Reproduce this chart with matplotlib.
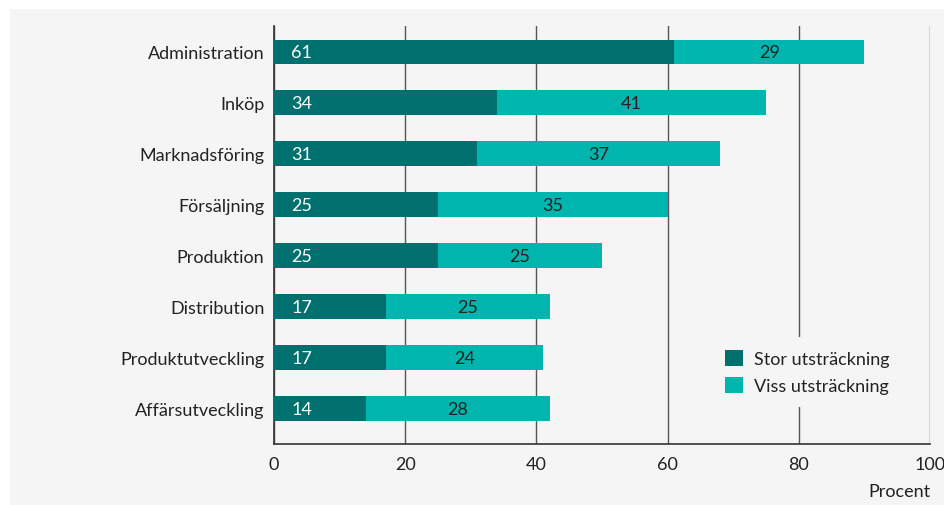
import matplotlib.pyplot as plt
from matplotlib.patches import Rectangle

plt.rcParams['font.family'] = ['Lato', 'DejaVu Sans']

kategorier = ['Administration', 'Inköp', 'Marknadsföring', 'Försäljning',
              'Produktion', 'Distribution', 'Produktutveckling', 'Affärsutveckling']
stor = [61, 34, 31, 25, 25, 17, 17, 14]
viss = [29, 41, 37, 35, 25, 25, 24, 28]

mork = '#00706f'
ljus = '#00b5ad'
bg = '#f5f5f5'
fs = 13

fig = plt.figure(figsize=(9.44, 5.06), dpi=100, facecolor='white')
# grå bakgrund med vit kant uppe och till vänster
fig.patches.append(Rectangle((10 / 944, 0), 1, 1 - 10 / 506, transform=fig.transFigure,
                             facecolor=bg, edgecolor='none', zorder=-10))
ax = fig.add_axes([274 / 944, 61 / 506, 656 / 944, 418 / 506])
ax.set_facecolor(bg)

y = list(range(len(kategorier)))
ax.barh(y, stor, height=0.49, color=mork, label='Stor utsträckning', zorder=3)
ax.barh(y, viss, left=stor, height=0.49, color=ljus, label='Viss utsträckning', zorder=3)

for i in y:
    ax.text(2.6, i, str(stor[i]), color='white', ha='left', va='center', fontsize=fs, zorder=4)
    ax.text(stor[i] + viss[i] / 2, i, str(viss[i]), color='#222222', ha='center', va='center',
            fontsize=fs, zorder=4)

ax.set_xlim(0, 100)
ax.set_ylim(7.69, -0.51)
ax.set_yticks(y)
ax.set_yticklabels(kategorier, fontsize=fs, color='#222222')
ax.set_xticks([0, 20, 40, 60, 80, 100])
ax.tick_params(axis='x', length=0, labelsize=fs, colors='#222222', pad=9)
ax.tick_params(axis='y', length=0, pad=7)
ax.grid(axis='x', color='#555555', linewidth=1, zorder=1)
for s in ['top', 'right']:
    ax.spines[s].set_visible(False)
for s in ['left', 'bottom']:
    ax.spines[s].set_color('#333333')
    ax.spines[s].set_linewidth(1.2)

leg = ax.legend(loc='center left', bbox_to_anchor=(0.654, 0.172), frameon=True, fontsize=fs,
                handlelength=1.0, handleheight=1.0, borderpad=0.7, labelspacing=0.55,
                handletextpad=0.6)
leg.get_frame().set_facecolor(bg)
leg.get_frame().set_edgecolor('none')
leg.get_frame().set_alpha(1)
leg.set_zorder(5)
for t in leg.get_texts():
    t.set_color('#222222')

fig.text(930 / 944, 1 - 492 / 506, 'Procent', ha='right', va='center', fontsize=fs, color='#222222')

fig.savefig('out.png', dpi=100, facecolor='white')
